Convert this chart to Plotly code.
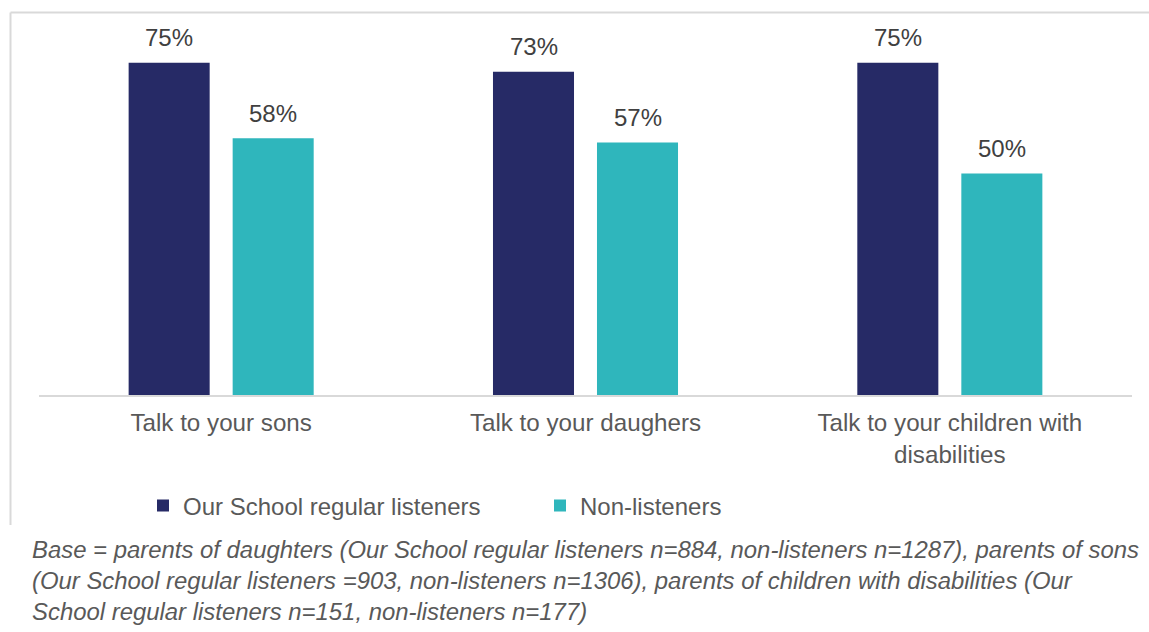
import plotly.graph_objects as go

# Share of parents who talk to their children, by listener group
categories = ["Talk to your sons", "Talk to your daughers", "Talk to your children with<br>disabilities"]
series_names = ["Our School regular listeners", "Non-listeners"]
listeners = [75, 73, 75]
non_listeners = [58, 57, 50]
footnote_lines = [
    "Base = parents of daughters (Our School regular listeners n=884, non-listeners n=1287), parents of sons",
    "(Our School regular listeners =903, non-listeners n=1306), parents of children with disabilities (Our",
    "School regular listeners n=151, non-listeners n=177)",
]

W, H = 1149, 632
ML, MR, MT, MB = 39, 17, 19, 237
PW, PH = W - ML - MR, H - MT - MB

NAVY = "#262A66"
TEAL = "#2FB6BC"
FONT = "Liberation Sans, Arial, sans-serif"

fig = go.Figure()
fig.add_trace(go.Bar(name=series_names[0], x=categories, y=listeners,
                     marker=dict(color=NAVY, line=dict(width=0))))
fig.add_trace(go.Bar(name=series_names[1], x=categories, y=non_listeners,
                     marker=dict(color=TEAL, line=dict(width=0))))

# value labels above each bar
for vals, shift in ((listeners, -52), (non_listeners, 52)):
    for cat, v in zip(categories, vals):
        fig.add_annotation(x=cat, y=v, text=f"{v}%", showarrow=False,
                           xshift=shift, yshift=25, yanchor="middle",
                           font=dict(family=FONT, size=24, color="#404040"))


def px_x(p):
    return (p - ML) / PW


def px_y(p):
    return (MT + PH - p) / PH


# footnote below the chart box (block centred on its middle line)
fig.add_annotation(xref="paper", yref="paper", x=px_x(30), y=px_y(580.5),
                   xanchor="left", yanchor="middle", align="left", showarrow=False,
                   text="<i>" + "<br>".join(footnote_lines) + "</i>",
                   font=dict(family=FONT, size=23.9, color="#595959"))

# chart box edges (top and left)
box = dict(color="#D9D9D9", width=2)
fig.add_shape(type="line", xref="paper", yref="paper",
              x0=px_x(10.5), x1=px_x(1160), y0=px_y(12.5), y1=px_y(12.5), line=box)
fig.add_shape(type="line", xref="paper", yref="paper",
              x0=px_x(10.5), x1=px_x(10.5), y0=px_y(12.5), y1=px_y(525), line=box)

fig.update_layout(
    width=W, height=H,
    margin=dict(l=ML, r=MR, t=MT, b=MB, pad=0),
    paper_bgcolor="white", plot_bgcolor="white",
    barmode="group", bargap=0.429, bargroupgap=0.221,
    font=dict(family=FONT, size=24, color="#595959"),
    showlegend=True,
    legend=dict(orientation="h", x=px_x(143), y=px_y(506), xanchor="left", yanchor="middle",
                entrywidth=352, entrywidthmode="pixels",
                font=dict(family=FONT, size=24, color="#595959"),
                bgcolor="rgba(0,0,0,0)"),
)
fig.update_xaxes(showline=True, linecolor="#D9D9D9", linewidth=2, ticks="",
                 showgrid=False, zeroline=False, tickfont=dict(size=24.2, color="#595959"),
                 ticklabelstandoff=5)
fig.update_yaxes(range=[0, 84.9], showgrid=False, zeroline=False, showticklabels=False,
                 showline=False, ticks="")

fig.write_html("out.html")
